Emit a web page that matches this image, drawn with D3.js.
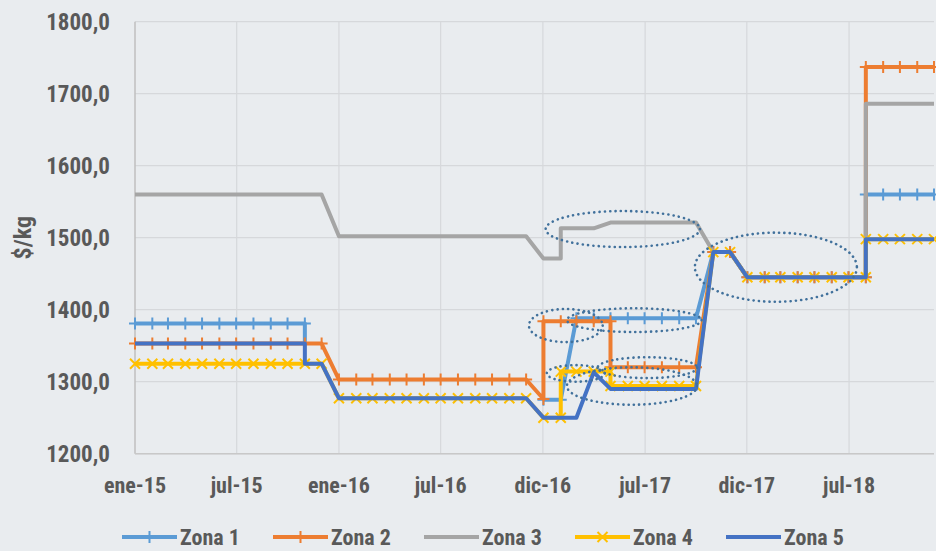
<!DOCTYPE html>
<html>
<head>
<meta charset="utf-8">
<script src="https://cdn.jsdelivr.net/npm/d3@7"></script>
<style>
  body { margin: 0; background: #E9ECEF; }
  svg text {
    font-family: "Roboto Condensed", "Liberation Sans Narrow", "Arial Narrow", "DejaVu Sans Condensed", sans-serif;
    font-weight: 700;
    fill: #595959;
  }
</style>
</head>
<body>
<div id="chart"></div>
<script>
// Series values ([month, $/kg]); a month repeated twice gives the vertical jumps
const zona1 = [
  ["2015-01", 1381], ["2015-02", 1381], ["2015-03", 1381], ["2015-04", 1381], ["2015-05", 1381], ["2015-06", 1381],
  ["2015-07", 1381], ["2015-08", 1381], ["2015-09", 1381], ["2015-10", 1381], ["2015-11", 1381], ["2015-11", 1353],
  ["2015-12", null],
  ["2017-01", 1275], ["2017-02", 1275], ["2017-03", 1388], ["2017-04", 1388], ["2017-05", 1388], ["2017-06", 1388],
  ["2017-07", 1388], ["2017-08", 1388], ["2017-09", 1388], ["2017-10", 1388], ["2017-11", 1480], ["2017-12", 1480],
  ["2018-01", 1445], ["2018-02", 1445], ["2018-03", 1445], ["2018-04", 1445], ["2018-05", 1445], ["2018-06", 1445],
  ["2018-07", 1445], ["2018-08", 1445], ["2018-08", 1560], ["2018-09", 1560], ["2018-10", 1560], ["2018-11", 1560],
  ["2018-12", 1560]
];
const zona2 = [
  ["2015-01", 1353], ["2015-02", 1353], ["2015-03", 1353], ["2015-04", 1353], ["2015-05", 1353], ["2015-06", 1353],
  ["2015-07", 1353], ["2015-08", 1353], ["2015-09", 1353], ["2015-10", 1353], ["2015-11", 1353], ["2015-12", 1353],
  ["2016-01", 1303], ["2016-02", 1303], ["2016-03", 1303], ["2016-04", 1303], ["2016-05", 1303], ["2016-06", 1303],
  ["2016-07", 1303], ["2016-08", 1303], ["2016-09", 1303], ["2016-10", 1303], ["2016-11", 1303], ["2016-12", 1303],
  ["2017-01", 1276], ["2017-01", 1384], ["2017-02", 1384], ["2017-03", 1384], ["2017-04", 1384], ["2017-05", 1384],
  ["2017-05", 1320], ["2017-06", 1320], ["2017-07", 1320], ["2017-08", 1320], ["2017-09", 1320], ["2017-10", 1320],
  ["2017-11", 1480], ["2017-12", 1480],
  ["2018-01", 1445], ["2018-02", 1445], ["2018-03", 1445], ["2018-04", 1445], ["2018-05", 1445], ["2018-06", 1445],
  ["2018-07", 1445], ["2018-08", 1445], ["2018-08", 1737], ["2018-09", 1737], ["2018-10", 1737], ["2018-11", 1737],
  ["2018-12", 1737]
];
const zona3 = [
  ["2015-01", 1560], ["2015-02", 1560], ["2015-03", 1560], ["2015-04", 1560], ["2015-05", 1560], ["2015-06", 1560],
  ["2015-07", 1560], ["2015-08", 1560], ["2015-09", 1560], ["2015-10", 1560], ["2015-11", 1560], ["2015-12", 1560],
  ["2016-01", 1502], ["2016-02", 1502], ["2016-03", 1502], ["2016-04", 1502], ["2016-05", 1502], ["2016-06", 1502],
  ["2016-07", 1502], ["2016-08", 1502], ["2016-09", 1502], ["2016-10", 1502], ["2016-11", 1502], ["2016-12", 1502],
  ["2017-01", 1471], ["2017-02", 1471], ["2017-02", 1513], ["2017-03", 1513], ["2017-04", 1513], ["2017-05", 1521],
  ["2017-06", 1521], ["2017-07", 1521], ["2017-08", 1521], ["2017-09", 1521], ["2017-10", 1521],
  ["2017-11", 1480], ["2017-12", 1480],
  ["2018-01", 1445], ["2018-02", 1445], ["2018-03", 1445], ["2018-04", 1445], ["2018-05", 1445], ["2018-06", 1445],
  ["2018-07", 1445], ["2018-08", 1445], ["2018-08", 1686], ["2018-09", 1686], ["2018-10", 1686], ["2018-11", 1686],
  ["2018-12", 1686]
];
const zona4 = [
  ["2015-01", 1325], ["2015-02", 1325], ["2015-03", 1325], ["2015-04", 1325], ["2015-05", 1325], ["2015-06", 1325],
  ["2015-07", 1325], ["2015-08", 1325], ["2015-09", 1325], ["2015-10", 1325], ["2015-11", 1325], ["2015-12", 1325],
  ["2016-01", 1277], ["2016-02", 1277], ["2016-03", 1277], ["2016-04", 1277], ["2016-05", 1277], ["2016-06", 1277],
  ["2016-07", 1277], ["2016-08", 1277], ["2016-09", 1277], ["2016-10", 1277], ["2016-11", 1277], ["2016-12", 1277],
  ["2017-01", 1250], ["2017-02", 1250], ["2017-02", 1314], ["2017-03", 1314], ["2017-04", 1314], ["2017-05", 1314],
  ["2017-05", 1294], ["2017-06", 1294], ["2017-07", 1294], ["2017-08", 1294], ["2017-09", 1294], ["2017-10", 1294],
  ["2017-11", 1480], ["2017-12", 1480],
  ["2018-01", 1445], ["2018-02", 1445], ["2018-03", 1445], ["2018-04", 1445], ["2018-05", 1445], ["2018-06", 1445],
  ["2018-07", 1445], ["2018-08", 1445], ["2018-08", 1498], ["2018-09", 1498], ["2018-10", 1498], ["2018-11", 1498],
  ["2018-12", 1498]
];
const zona5 = [
  ["2015-01", 1353], ["2015-02", 1353], ["2015-03", 1353], ["2015-04", 1353], ["2015-05", 1353], ["2015-06", 1353],
  ["2015-07", 1353], ["2015-08", 1353], ["2015-09", 1353], ["2015-10", 1353], ["2015-11", 1353], ["2015-11", 1325],
  ["2015-12", 1325],
  ["2016-01", 1277], ["2016-02", 1277], ["2016-03", 1277], ["2016-04", 1277], ["2016-05", 1277], ["2016-06", 1277],
  ["2016-07", 1277], ["2016-08", 1277], ["2016-09", 1277], ["2016-10", 1277], ["2016-11", 1277], ["2016-12", 1277],
  ["2017-01", 1250], ["2017-02", 1250], ["2017-03", 1250], ["2017-04", 1313], ["2017-05", 1290], ["2017-06", 1290],
  ["2017-07", 1290], ["2017-08", 1290], ["2017-09", 1290], ["2017-10", 1290],
  ["2017-11", 1480], ["2017-12", 1480],
  ["2018-01", 1445], ["2018-02", 1445], ["2018-03", 1445], ["2018-04", 1445], ["2018-05", 1445], ["2018-06", 1445],
  ["2018-07", 1445], ["2018-08", 1445], ["2018-08", 1498], ["2018-09", 1498], ["2018-10", 1498], ["2018-11", 1498],
  ["2018-12", 1498]
];

const seriesNames = ["Zona 1", "Zona 2", "Zona 3", "Zona 4", "Zona 5"];
const seriesColors = ["#5B9BD5", "#ED7D31", "#A5A5A5", "#FFC000", "#4472C4"];
const seriesMarkers = ["plus", "plus", "none", "cross", "none"];

// x axis labels (Excel date axis, one label every ~half year)
const tickDates = ["2015-01-01", "2015-07-02", "2016-01-01", "2016-07-01", "2016-12-31", "2017-07-02", "2017-12-31", "2018-07-02"];
const tickLabels = ["ene-15", "jul-15", "ene-16", "jul-16", "dic-16", "jul-17", "dic-17", "jul-18"];
const yTicks = [1200, 1300, 1400, 1500, 1600, 1700, 1800];

// dotted ellipses: [from date, to date, low value, high value]
const highlights = [
  ["2017-01-05", "2017-10-08", 1487, 1537],
  ["2017-09-29", "2018-07-16", 1411, 1507],
  ["2016-12-06", "2017-04-17", 1355, 1401],
  ["2017-02-12", "2017-10-11", 1369, 1402],
  ["2017-01-07", "2017-04-21", 1300, 1323],
  ["2017-04-08", "2017-10-03", 1305, 1334],
  ["2017-02-12", "2017-10-03", 1268, 1320]
];

const width = 936, height = 551;
const margin = { top: 21.7, right: 2, bottom: 97.3, left: 135 };

const parseMonth = d3.utcParse("%Y-%m");
const parseDay = d3.utcParse("%Y-%m-%d");

const svg = d3.select("#chart").append("svg")
  .attr("width", width)
  .attr("height", height);

svg.append("rect").attr("width", width).attr("height", height).attr("fill", "#E9ECEF");

const x = d3.scaleUtc()
  .domain([parseDay("2015-01-01"), parseDay("2018-12-01")])
  .range([margin.left, width - margin.right]);

const y = d3.scaleLinear()
  .domain([1200, 1800])
  .range([height - margin.bottom, margin.top]);

// Gridlines
const grid = svg.append("g");
grid.selectAll(".hgrid").data(yTicks).enter().append("line")
  .attr("x1", margin.left).attr("x2", width - margin.right)
  .attr("y1", d => y(d)).attr("y2", d => y(d))
  .attr("stroke", "#D6D8DB").attr("stroke-width", 1.2);

grid.selectAll(".vgrid").data(tickDates.slice(1)).enter().append("line")
  .attr("x1", d => x(parseDay(d))).attr("x2", d => x(parseDay(d)))
  .attr("y1", y(1800)).attr("y2", y(1200))
  .attr("stroke", "#D6D8DB").attr("stroke-width", 1.2);

// Axis lines
svg.append("line")
  .attr("x1", margin.left).attr("x2", margin.left)
  .attr("y1", y(1800)).attr("y2", y(1200))
  .attr("stroke", "#BFBFBF").attr("stroke-width", 1.5);
svg.append("line")
  .attr("x1", margin.left).attr("x2", width - margin.right)
  .attr("y1", y(1200)).attr("y2", y(1200))
  .attr("stroke", "#C8C8C8").attr("stroke-width", 1.5);

// Tick labels
const fmtY = v => d3.format(".1f")(v).replace(".", ",");
svg.append("g").selectAll("text").data(yTicks).enter().append("text")
  .attr("x", 110)
  .attr("y", d => y(d))
  .attr("dy", "0.36em")
  .attr("text-anchor", "end")
  .style("font-size", "23px")
  .text(fmtY);

svg.append("g").selectAll("text").data(tickDates).enter().append("text")
  .attr("x", d => x(parseDay(d)))
  .attr("y", 493)
  .attr("text-anchor", "middle")
  .style("font-size", "22px")
  .text((d, i) => tickLabels[i]);

svg.append("text")
  .attr("transform", `translate(31, ${y(1500)}) rotate(-90)`)
  .attr("text-anchor", "middle")
  .style("font-size", "24px")
  .text("$/kg");

// Markers
function markerPath(type) {
  if (type === "plus") return "M-6,0H6M0,-6V6";
  if (type === "cross") return "M-5,-5L5,5M-5,5L5,-5";
  return null;
}

const line = d3.line()
  .defined(d => d[1] !== null)
  .x(d => x(parseMonth(d[0])))
  .y(d => y(d[1]));

const allSeries = [zona1, zona2, zona3, zona4, zona5];

allSeries.forEach((data, i) => {
  const g = svg.append("g");
  g.append("path")
    .datum(data)
    .attr("d", line)
    .attr("fill", "none")
    .attr("stroke", seriesColors[i])
    .attr("stroke-width", 4)
    .attr("stroke-linejoin", "round");

  const m = markerPath(seriesMarkers[i]);
  if (m) {
    g.selectAll(".mk").data(data.filter(d => d[1] !== null)).enter().append("path")
      .attr("d", m)
      .attr("transform", d => `translate(${x(parseMonth(d[0]))},${y(d[1])})`)
      .attr("fill", "none")
      .attr("stroke", seriesColors[i])
      .attr("stroke-width", 2);
  }
});

// Dotted highlight ellipses
svg.append("g").selectAll("ellipse").data(highlights).enter().append("ellipse")
  .attr("cx", d => (x(parseDay(d[0])) + x(parseDay(d[1]))) / 2)
  .attr("cy", d => (y(d[2]) + y(d[3])) / 2)
  .attr("rx", d => (x(parseDay(d[1])) - x(parseDay(d[0]))) / 2)
  .attr("ry", d => (y(d[2]) - y(d[3])) / 2)
  .attr("fill", "none")
  .attr("stroke", "#41719C")
  .attr("stroke-width", 2.6)
  .attr("stroke-linecap", "round")
  .attr("stroke-dasharray", "0.1 5.2");

// Legend
const legend = svg.append("g").attr("transform", "translate(122, 537)");
seriesNames.forEach((name, i) => {
  const item = legend.append("g").attr("transform", `translate(${i * 151}, 0)`);
  item.append("line")
    .attr("x1", 0).attr("x2", 55)
    .attr("stroke", seriesColors[i]).attr("stroke-width", 4);
  const m = markerPath(seriesMarkers[i]);
  if (m) {
    item.append("path").attr("d", m)
      .attr("transform", "translate(27.5,0)")
      .attr("fill", "none").attr("stroke", seriesColors[i]).attr("stroke-width", 2);
  }
  item.append("text")
    .attr("x", 58)
    .attr("dy", "0.36em")
    .style("font-size", "22px")
    .text(name);
});
</script>
</body>
</html>
